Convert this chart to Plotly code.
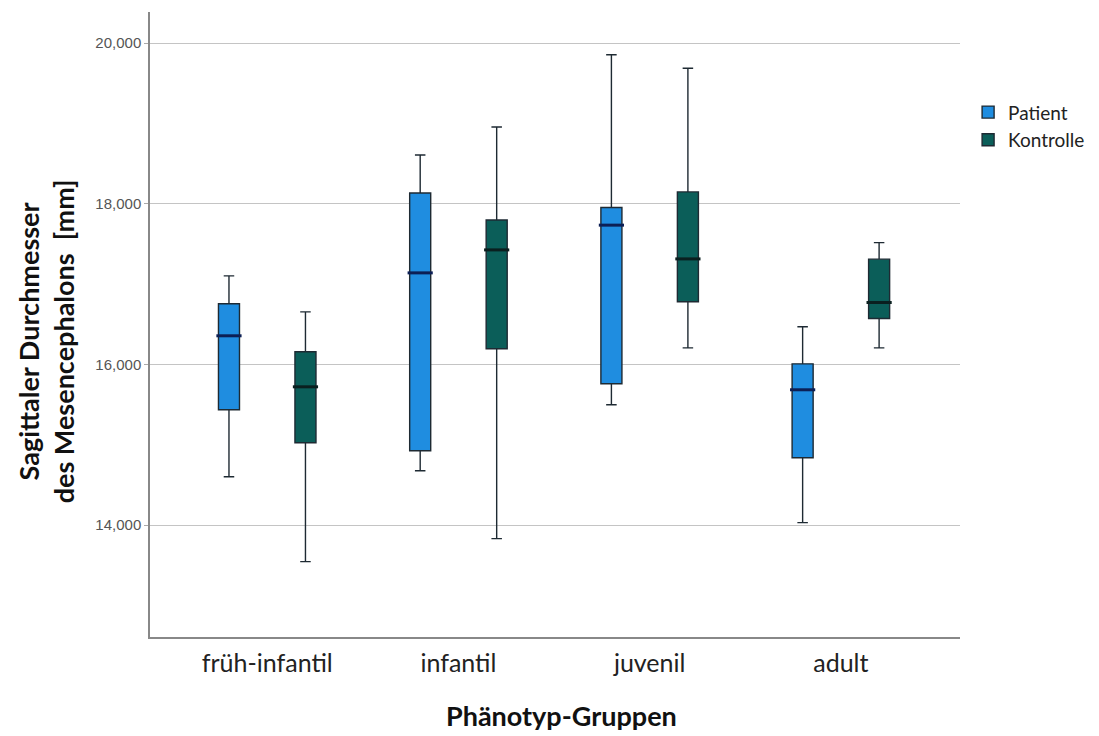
import plotly.graph_objects as go

categories = ["früh-infantil", "infantil", "juvenil", "adult"]
series_names = ["Patient", "Kontrolle"]

patient_lower = [14.602, 14.677, 15.498, 14.030]
patient_q1 = [15.435, 14.925, 15.759, 14.838]
patient_median = [16.356, 17.139, 17.733, 15.684]
patient_q3 = [16.754, 18.134, 17.952, 16.007]
patient_upper = [17.102, 18.607, 19.854, 16.468]

kontrolle_lower = [13.545, 13.831, 16.206, 16.206]
kontrolle_q1 = [15.025, 16.194, 16.779, 16.571]
kontrolle_median = [15.721, 17.425, 17.313, 16.770]
kontrolle_q3 = [16.157, 17.798, 18.147, 17.310]
kontrolle_upper = [16.654, 18.955, 19.685, 17.516]

y_tickvals = [14, 16, 18, 20]
y_ticktext = ["14,000", "16,000", "18,000", "20,000"]

x_title = "Phänotyp-Gruppen"
y_title = "Sagittaler Durchmesser<br>des Mesencephalons  [mm]"

colors = ["#1f8de0", "#0b5e59"]
median_colors = ["#0c1f55", "#0a1f1f"]
offsets = [-0.2, 0.2]
box_w = 0.11

series = [
    (patient_lower, patient_q1, patient_median, patient_q3, patient_upper),
    (kontrolle_lower, kontrolle_q1, kontrolle_median, kontrolle_q3, kontrolle_upper),
]

fig = go.Figure()
for k, (lo, q1, med, q3, up) in enumerate(series):
    xs = [i + offsets[k] for i in range(len(categories))]
    fig.add_trace(go.Box(
        name=series_names[k],
        x=xs, lowerfence=lo, q1=q1, median=med, q3=q3, upperfence=up,
        width=box_w, whiskerwidth=0.5,
        fillcolor=colors[k],
        line=dict(color="#1e2a33", width=1.4),
        boxpoints=False,
        showlegend=True,
    ))
for k, (lo, q1, med, q3, up) in enumerate(series):
    xs = [i + offsets[k] for i in range(len(categories))]
    fig.add_trace(go.Scatter(
        x=xs, y=med, mode="markers",
        marker=dict(symbol="line-ew", size=18,
                    line=dict(color=median_colors[k], width=3)),
        showlegend=False, hoverinfo="skip",
    ))

# page body has an 8px default margin, so the figure is 8px smaller
fig.update_layout(
    width=1091, height=728,
    paper_bgcolor="white", plot_bgcolor="white",
    margin=dict(l=142, r=139, t=4, b=99, autoexpand=False),
    boxmode="overlay",
    font=dict(family="Lato", color="#222"),
    legend=dict(x=1.01, y=0.87, xanchor="left", yanchor="top",
                font=dict(family="Lato", size=19, color="#222"),
                tracegroupgap=0),
    annotations=[
        dict(text="<b>" + y_title + "</b>", textangle=-90,
             xref="paper", yref="paper", x=-0.128, y=0.4736,
             xanchor="center", yanchor="middle", showarrow=False,
             font=dict(family="Lato", size=27, color="#111")),
        dict(text="<b>" + x_title + "</b>",
             xref="paper", yref="paper", x=0.5086, y=-0.1248,
             xanchor="center", yanchor="middle", showarrow=False,
             font=dict(family="Lato", size=27, color="#111")),
    ],
)
fig.update_xaxes(
    range=[-0.613, 3.623], tickmode="array",
    tickvals=list(range(len(categories))), ticktext=categories,
    showgrid=False, zeroline=False, automargin=False,
    showline=True, linecolor="#888", linewidth=1.5,
    tickfont=dict(family="Lato", size=25, color="#222"),
    ticks="", ticklen=0, ticklabelstandoff=3,
)
fig.update_yaxes(
    range=[12.607, 20.386], tickmode="array",
    tickvals=y_tickvals, ticktext=y_ticktext,
    showgrid=True, gridcolor="#c4c4c4", gridwidth=1.2, zeroline=False,
    automargin=False,
    showline=True, linecolor="#888", linewidth=1.5,
    ticks="outside", ticklen=4, tickcolor="#aaa",
    tickfont=dict(family="Liberation Sans", size=15, color="#555"),
)
fig.write_html("out.html")
